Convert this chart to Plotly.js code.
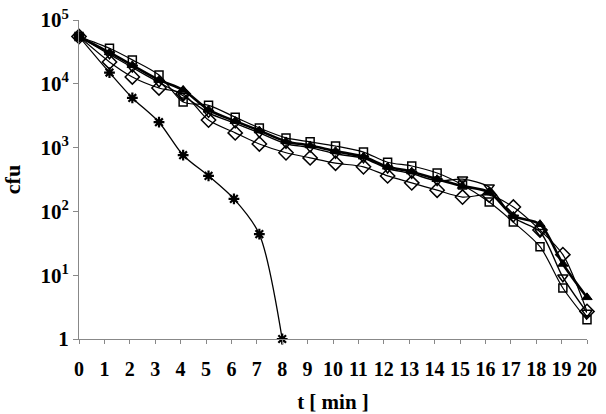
<!DOCTYPE html>
<html>
<head>
<meta charset="utf-8">
<script src="https://cdn.plot.ly/plotly-3.0.1.min.js"></script>
<style>
  html, body { margin: 0; padding: 0; background: #fff; }
  #chart { width: 606px; height: 414px; }
</style>
</head>
<body>
<div id="chart"></div>
<script>
// sampling times [min] (points sit slightly off the integer ticks)
var tMain = [0, 1.2, 2.1, 3.15, 4.1, 5.1, 6.15, 7.1, 8.15, 9.1, 10.1, 11.2, 12.15, 13.1, 14.1, 15.1, 16.15, 17.1, 18.15, 19.05, 20];
var tStar = [0, 1.2, 2.1, 3.15, 4.1, 5.1, 6.1, 7.1, 8.0];

// cfu values per series
var cfuSquare   = [55000, 36000, 23700, 13700, 5200, 4600, 3000, 2030, 1420, 1230, 1060, 850, 590, 515, 400, 260, 140, 68, 28, 6.3, 2.0];
var cfuTriUp    = [55000, 31000, 19500, 11500, 8000, 3900, 2600, 1850, 1250, 1080, 880, 720, 500, 420, 320, 250, 200, 85, 63, 15, 4.5];
var cfuTriDown  = [55000, 29000, 18000, 10500, 6500, 3500, 2400, 1700, 1150, 1000, 800, 680, 470, 390, 300, 320, 240, 80, 48, 9.3, 2.6];
var cfuDiamond  = [55000, 22000, 12800, 8600, 7000, 2700, 1700, 1140, 830, 690, 570, 500, 360, 280, 215, 168, 180, 117, 51, 21, 2.7];
var cfuStar     = [55000, 15000, 6000, 2500, 760, 360, 157, 44, 1];

var yTickVals = [1, 10, 100, 1000, 10000, 100000];
var yTickText = ["1", "10<sup>1</sup>", "10<sup>2</sup>", "10<sup>3</sup>", "10<sup>4</sup>", "10<sup>5</sup>"];
var xTickVals = [0, 1, 2, 3, 4, 5, 6, 7, 8, 9, 10, 11, 12, 13, 14, 15, 16, 17, 18, 19, 20];

function series(x, y, sym, size, lw, mlw, fill) {
  return { x: x, y: y, mode: "lines+markers", type: "scatter", showlegend: false,
    line: { color: "#000", width: lw, shape: "spline", smoothing: 0.8 },
    marker: { symbol: sym, size: size, color: fill || "#000", line: { color: "#000", width: mlw } },
    cliponaxis: false };
}

var traces = [
  series(tMain, cfuDiamond, "diamond-open", 11, 1.2, 1.5),
  series(tMain, cfuTriDown, "triangle-down-open", 9, 1.4, 1.5),
  series(tMain, cfuSquare, "square-open", 8, 1.2, 1.5),
  series(tMain, cfuTriUp, "triangle-up", 9, 2.6, 1),
  series(tStar, cfuStar, "asterisk-open", 9, 1.3, 2.2)
];

var FAM = "Liberation Serif, Times New Roman, serif";

Plotly.newPlot("chart", traces, {
  width: 606, height: 414,
  margin: { t: 20, r: 19, b: 75, l: 79 },
  paper_bgcolor: "#fff", plot_bgcolor: "#fff",
  showlegend: false,
  xaxis: { range: [0, 20], tickvals: xTickVals, ticks: "outside", ticklen: 4, tickcolor: "#888",
    showline: true, linecolor: "#888", linewidth: 1, showgrid: false, zeroline: false,
    ticklabelstandoff: 8,
    tickfont: { family: FAM, size: 20, color: "#000", weight: "bold" },
    title: { text: "t [ min ]", font: { family: FAM, size: 21, color: "#000", weight: "bold" }, standoff: 22 } },
  yaxis: { type: "log", range: [0, 5], tickvals: yTickVals, ticktext: yTickText, ticks: "outside", ticklen: 5,
    tickcolor: "#888", showline: true, linecolor: "#888", linewidth: 1, showgrid: false, zeroline: false,
    tickfont: { family: FAM, size: 21, color: "#000", weight: "bold" },
    title: { text: "cfu", font: { family: FAM, size: 22, color: "#000", weight: "bold" }, standoff: 14 } }
}, { displayModeBar: false, staticPlot: true });
</script>
</body>
</html>
